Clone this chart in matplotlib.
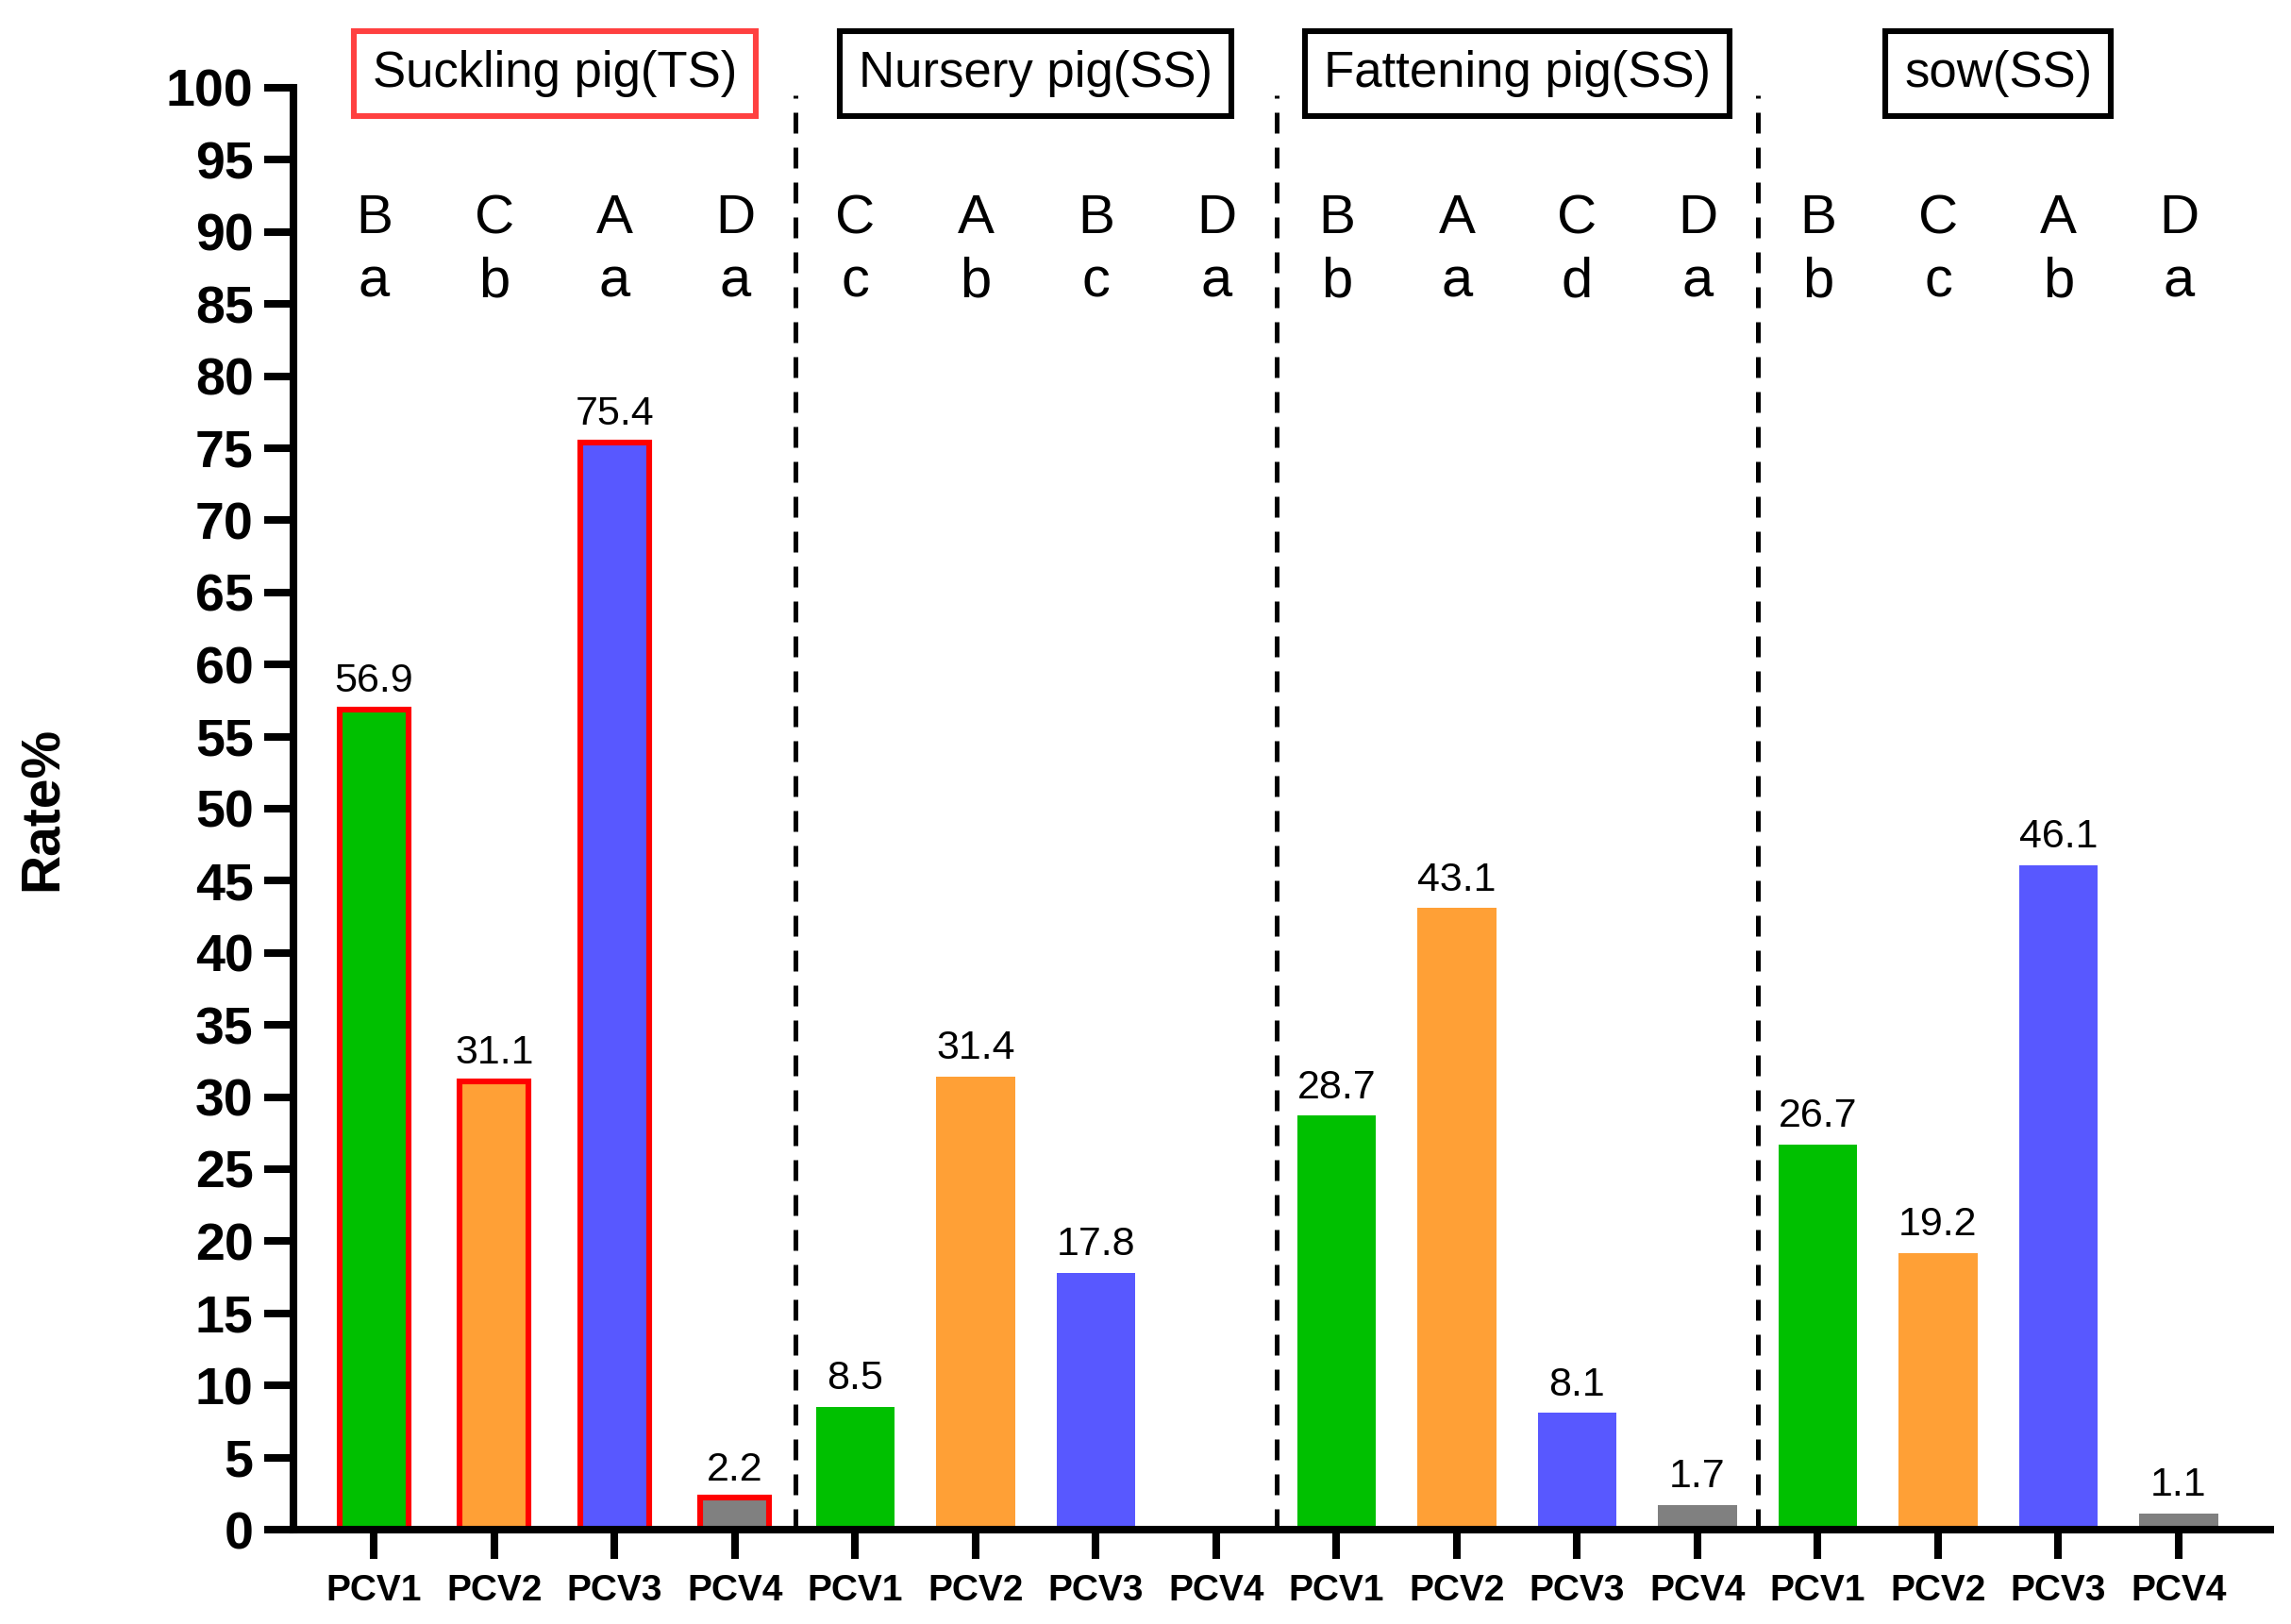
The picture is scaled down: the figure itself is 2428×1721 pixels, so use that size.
import numpy as np
import matplotlib
matplotlib.use("Agg")
import matplotlib.pyplot as plt

plt.rcParams['font.family'] = ['Liberation Sans', 'DejaVu Sans']

# data
viruses = ["PCV1", "PCV2", "PCV3", "PCV4"]
groups = ["Suckling pig(TS)", "Nursery pig(SS)", "Fattening pig(SS)", "sow(SS)"]
suckling = [56.9, 31.1, 75.4, 2.2]
nursery = [8.5, 31.4, 17.8, np.nan]
fattening = [28.7, 43.1, 8.1, 1.7]
sow = [26.7, 19.2, 46.1, 1.1]
upper_letters = [["B", "C", "A", "D"], ["C", "A", "B", "D"],
                 ["B", "A", "C", "D"], ["B", "C", "A", "D"]]
lower_letters = [["a", "b", "a", "a"], ["c", "b", "c", "a"],
                 ["b", "a", "d", "a"], ["b", "c", "b", "a"]]

bar_colors = ["#00C000", "#FFA036", "#5858FF", "#808080"]
group_values = [suckling, nursery, fattening, sow]

fig = plt.figure(figsize=(12.14, 8.605), dpi=200)
ax = fig.add_axes([0.1281, 0.0581, 0.8628, 0.8879])

ticks = []
for g, vals in enumerate(group_values):
    x = np.arange(4) + 4 * g
    ticks.extend(x)
    if g == 0:
        ax.bar(x, vals, width=0.572, color=bar_colors, edgecolor="#FF0000", linewidth=2.2)
    else:
        ax.bar(x, vals, width=0.658, color=bar_colors, linewidth=0)
    for xi, v in zip(x, vals):
        if not np.isnan(v):
            ax.annotate(f"{v:.1f}", (xi, v), xytext=(0, 3.5), textcoords="offset points",
                        ha="center", va="bottom", fontsize=15.5)
    for xi, up, lo in zip(x, upper_letters[g], lower_letters[g]):
        ax.text(xi, 89.9, up, ha="center", va="baseline", fontsize=21)
        ax.text(xi, 85.5, lo, ha="center", va="baseline", fontsize=21.5)
    # group title box
    edge = "#FF4040" if g == 0 else "black"
    ax.text(x.mean(), 101.0, groups[g], ha="center", va="center", fontsize=19,
            clip_on=False, zorder=5,
            bbox=dict(boxstyle="square,pad=0.38", facecolor="white", edgecolor=edge, linewidth=2.2))

# separators between groups
for sep in [3.5, 7.5, 11.5]:
    ax.plot([sep, sep], [0, 99.5], color="black", linewidth=1.8,
            dashes=[4.4, 3], clip_on=False)

ax.set_xlim(-0.67, 15.76)
ax.set_ylim(0, 100)
ax.set_xticks(ticks)
ax.set_xticklabels(viruses * 4, fontsize=14, fontweight="bold")
ax.set_yticks(np.arange(0, 101, 5))
ax.set_yticklabels([str(v) for v in range(0, 101, 5)], fontsize=20, fontweight="bold")

ax.spines["top"].set_visible(False)
ax.spines["right"].set_visible(False)
ax.spines["left"].set_linewidth(2.9)
ax.spines["bottom"].set_linewidth(2.9)
ax.tick_params(axis="y", direction="out", length=11, width=2.9, pad=4.3)
ax.tick_params(axis="x", direction="out", length=11, width=2.9, pad=6)

ax.set_ylabel("Rate%", fontsize=20.5, fontweight="bold", va="center")
ax.yaxis.set_label_coords(-0.1264, 0.5)

fig.savefig("out.png", dpi=200)
